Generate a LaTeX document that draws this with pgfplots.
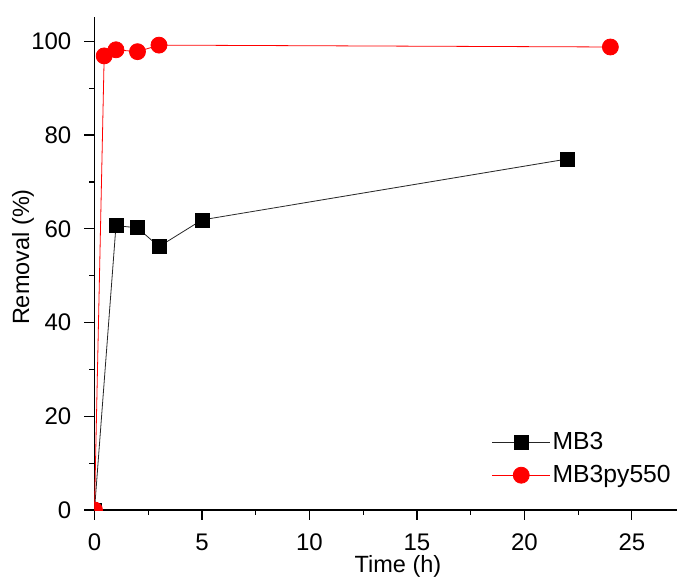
\documentclass[border=0pt]{standalone}
\usepackage{fontspec}
\setmainfont{Liberation Sans}
\usepackage{pgfplots}
\pgfplotsset{compat=1.18}
\begin{document}
\fontsize{24bp}{28bp}\selectfont
\begin{tikzpicture}
\begin{axis}[
  scale only axis,
  width=582.5bp, height=493bp,
  xmin=0, xmax=27.1, ymin=0, ymax=105.2,
  axis lines*=left,
  axis line style={line width=1.4bp},
  tick align=outside,
  major tick length=10bp, minor tick length=5bp,
  every tick/.style={line width=1.2bp, black},
  xtick={0,5,10,15,20,25}, ytick={0,20,40,60,80,100},
  minor x tick num=1, minor y tick num=1,
  /pgf/number format/assume math mode=true,
  tick label style={font=\fontsize{24bp}{28bp}\selectfont},
  xticklabel style={yshift=-6bp},
  yticklabel style={xshift=-5bp},
  xlabel={Time (h)}, ylabel={Removal (\%)},
  xlabel style={font=\fontsize{23.5bp}{28bp}\selectfont, at={(axis description cs:0.521,-0.1136)}, anchor=center},
  ylabel style={font=\fontsize{23.5bp}{28bp}\selectfont, at={(axis description cs:-0.1227,0.513)}, anchor=center},
  clip marker paths=true,
  legend style={draw=none, fill=none, at={(0.993,0.045)}, anchor=south east,
    font=\fontsize{24.7bp}{29bp}\selectfont, row sep=8bp, inner sep=0pt,
    /tikz/every even column/.append style={column sep=8bp}},
  legend cell align=left,
  legend image code/.code={\draw[#1, mark repeat=2, mark phase=2] plot coordinates {(0bp,0bp) (29bp,0bp) (58bp,0bp)};},
]
\addplot[black!85, line width=0.8bp, mark=square*, mark size=7bp, mark options={fill=black, draw=black, solid}]
  coordinates {(0,0) (1,60.7) (2,60.2) (3,56.2) (5,61.9) (22,74.9)};
\addlegendentry{MB3}
\addplot[red, line width=0.8bp, mark=*, mark size=8bp, mark options={fill=red, draw=red, solid}]
  coordinates {(0,0) (0.45,96.9) (1,98.2) (2,97.8) (3,99.2) (24,98.8)};
\addlegendentry{MB3py550}
\end{axis}
\pgfresetboundingbox
\path (-94.5bp,-67bp) rectangle (582.5bp,510bp);
\end{tikzpicture}
\end{document}
